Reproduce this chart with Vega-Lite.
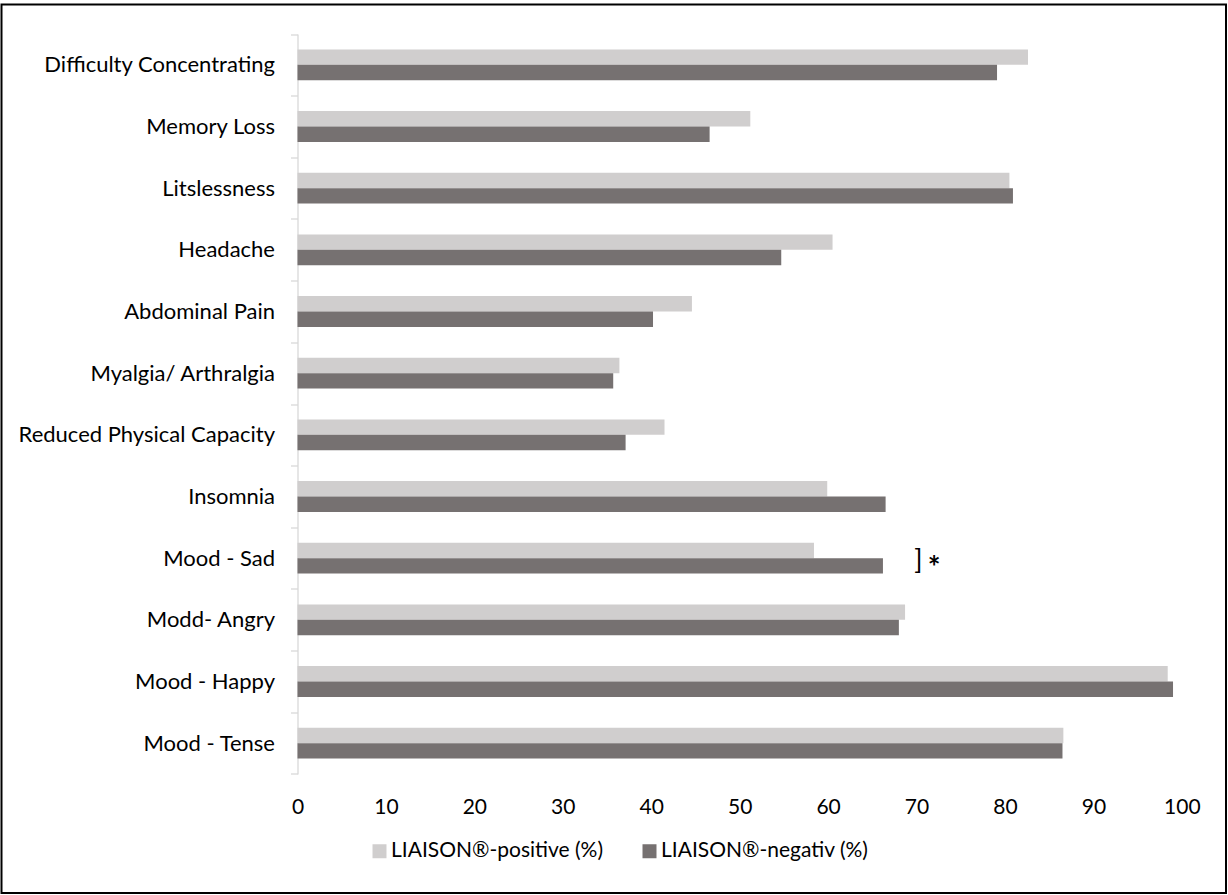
{
  "$schema": "https://vega.github.io/schema/vega-lite/v6.json",
  "width": 1224.5,
  "height": 888.5,
  "autosize": {"type": "none"},
  "padding": {"left": 1.5, "top": 4.5, "right": 2, "bottom": 2},
  "background": "white",
  "config": {"view": {"stroke": "#000000", "strokeWidth": 2}, "font": "Lato"},
  "datasets": {
    "bars": [
      {"symptom": "Difficulty Concentrating", "group": "LIAISON®-positive (%)", "value": 82.6},
      {"symptom": "Difficulty Concentrating", "group": "LIAISON®-negativ (%)", "value": 79.1},
      {"symptom": "Memory Loss", "group": "LIAISON®-positive (%)", "value": 51.2},
      {"symptom": "Memory Loss", "group": "LIAISON®-negativ (%)", "value": 46.6},
      {"symptom": "Litslessness", "group": "LIAISON®-positive (%)", "value": 80.5},
      {"symptom": "Litslessness", "group": "LIAISON®-negativ (%)", "value": 80.9},
      {"symptom": "Headache", "group": "LIAISON®-positive (%)", "value": 60.5},
      {"symptom": "Headache", "group": "LIAISON®-negativ (%)", "value": 54.7},
      {"symptom": "Abdominal Pain", "group": "LIAISON®-positive (%)", "value": 44.6},
      {"symptom": "Abdominal Pain", "group": "LIAISON®-negativ (%)", "value": 40.2},
      {"symptom": "Myalgia/ Arthralgia", "group": "LIAISON®-positive (%)", "value": 36.4},
      {"symptom": "Myalgia/ Arthralgia", "group": "LIAISON®-negativ (%)", "value": 35.7},
      {"symptom": "Reduced Physical Capacity", "group": "LIAISON®-positive (%)", "value": 41.5},
      {"symptom": "Reduced Physical Capacity", "group": "LIAISON®-negativ (%)", "value": 37.1},
      {"symptom": "Insomnia", "group": "LIAISON®-positive (%)", "value": 59.9},
      {"symptom": "Insomnia", "group": "LIAISON®-negativ (%)", "value": 66.5},
      {"symptom": "Mood - Sad", "group": "LIAISON®-positive (%)", "value": 58.4},
      {"symptom": "Mood - Sad", "group": "LIAISON®-negativ (%)", "value": 66.2},
      {"symptom": "Modd- Angry", "group": "LIAISON®-positive (%)", "value": 68.7},
      {"symptom": "Modd- Angry", "group": "LIAISON®-negativ (%)", "value": 68.0},
      {"symptom": "Mood - Happy", "group": "LIAISON®-positive (%)", "value": 98.4},
      {"symptom": "Mood - Happy", "group": "LIAISON®-negativ (%)", "value": 99.0},
      {"symptom": "Mood - Tense", "group": "LIAISON®-positive (%)", "value": 86.6},
      {"symptom": "Mood - Tense", "group": "LIAISON®-negativ (%)", "value": 86.5}
    ],
    "note": [
      {"symptom": "Mood - Sad", "bracket": 70.2, "star": 72.0}
    ]
  },
  "layer": [
    {
      "data": {"name": "bars"},
      "mark": {"type": "bar"},
      "encoding": {
        "y": {
          "field": "symptom",
          "type": "nominal",
          "sort": null,
          "scale": {"range": [29.5, 769.5], "paddingInner": 0, "paddingOuter": 0},
          "axis": {
            "title": null,
            "orient": "left",
            "offset": -296,
            "domainColor": "#D9D9D9",
            "domainWidth": 1.3,
            "tickColor": "#D9D9D9",
            "tickWidth": 1.3,
            "tickSize": 7,
            "tickBand": "extent",
            "labelPadding": 16,
            "labelFont": "Lato",
            "labelFontSize": 22,
            "labelColor": "#000000",
            "labelLimit": 400
          }
        },
        "yOffset": {
          "field": "group",
          "type": "nominal",
          "sort": ["LIAISON®-positive (%)", "LIAISON®-negativ (%)"],
          "scale": {"paddingInner": 0, "paddingOuter": 1.2425}
        },
        "x": {
          "field": "value",
          "type": "quantitative",
          "stack": null,
          "scale": {"domain": [-33.47, 104.99], "nice": false, "zero": false},
          "axis": {
            "title": null,
            "orient": "bottom",
            "offset": -98,
            "values": [0, 10, 20, 30, 40, 50, 60, 70, 80, 90, 100],
            "grid": false,
            "domain": false,
            "ticks": false,
            "labelPadding": 1,
            "labelFont": "Lato",
            "labelFontSize": 21,
            "labelColor": "#000000"
          }
        },
        "color": {
          "field": "group",
          "type": "nominal",
          "sort": ["LIAISON®-positive (%)", "LIAISON®-negativ (%)"],
          "scale": {"domain": ["LIAISON®-positive (%)", "LIAISON®-negativ (%)"], "range": ["#D0CECE", "#767171"]},
          "legend": {
            "title": null,
            "orient": "none",
            "direction": "horizontal",
            "legendX": 367.5,
            "legendY": 836,
            "padding": 0,
            "symbolType": "square",
            "symbolSize": 196,
            "symbolStrokeWidth": 0,
            "labelFont": "Lato",
            "labelFontSize": 21,
            "labelColor": "#000000",
            "labelOffset": 1,
            "columnPadding": 35,
            "labelLimit": 400
          }
        }
      }
    },
    {
      "data": {"name": "note"},
      "mark": {"type": "text", "font": "Lato", "fontSize": 27, "color": "#000000", "align": "center", "baseline": "alphabetic", "dy": 11},
      "encoding": {
        "x": {"field": "bracket", "type": "quantitative"},
        "y": {"field": "symptom", "type": "nominal", "sort": null},
        "text": {"value": "]"}
      }
    },
    {
      "data": {"name": "note"},
      "mark": {"type": "text", "font": "Lato", "fontSize": 30, "fontWeight": "bold", "color": "#000000", "align": "center", "baseline": "alphabetic", "dy": 20},
      "encoding": {
        "x": {"field": "star", "type": "quantitative"},
        "y": {"field": "symptom", "type": "nominal", "sort": null},
        "text": {"value": "*"}
      }
    }
  ]
}
